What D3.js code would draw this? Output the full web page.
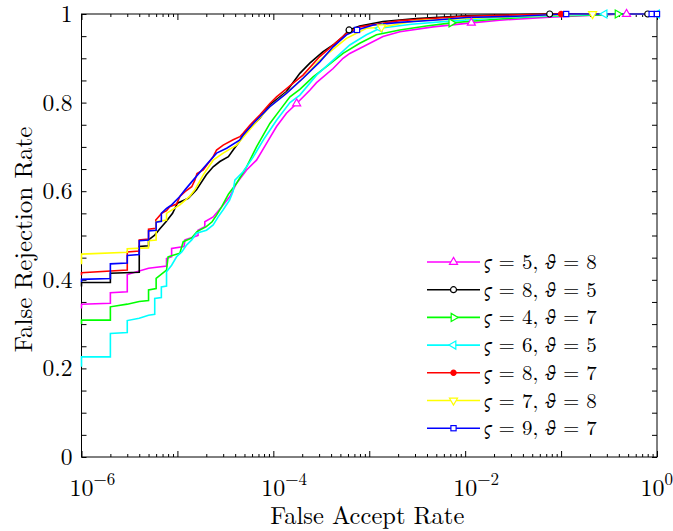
<!DOCTYPE html>
<html>
<head>
<meta charset="utf-8">
<script src="https://cdn.jsdelivr.net/npm/d3@7"></script>
<style>
  body { margin: 0; background: #fff; }
  svg { display: block; }
</style>
</head>
<body>
<div id="chart"></div>
<script>
// Data: [false accept rate, false rejection rate]
const magenta = [[1e-6,0.335],[1e-6,0.345],[2e-6,0.347],[2e-6,0.371],[3e-6,0.373],[3e-6,0.412],[5e-6,0.426],[7.7e-6,0.431],[7.7e-6,0.448],[8.7e-6,0.452],[8.7e-6,0.471],[1.17e-5,0.475],[1.2e-5,0.49],[1.64e-5,0.5],[1.64e-5,0.512],[1.93e-5,0.52],[1.93e-5,0.531],[2.36e-5,0.542],[2.9e-5,0.565],[3.52e-5,0.588],[4.14e-5,0.618],[5.26e-5,0.648],[6.68e-5,0.67],[8.49e-5,0.708],[1.08e-4,0.746],[1.37e-4,0.776],[1.75e-4,0.798],[2.4e-4,0.828],[2.82e-4,0.845],[4.2e-4,0.877],[5.33e-4,0.9],[6.27e-4,0.911],[9.35e-4,0.93],[1.39e-3,0.949],[2.08e-3,0.96],[4.62e-3,0.971],[1.16e-2,0.98],[2.29e-2,0.986],[7.59e-2,0.993],[0.252,0.998],[0.481,1],[1,1]]
const black = [[1e-6,0.385],[1e-6,0.394],[2e-6,0.394],[2e-6,0.415],[4e-6,0.417],[4e-6,0.475],[5e-6,0.477],[5e-6,0.49],[5.8e-6,0.501],[6.6e-6,0.516],[7.6e-6,0.531],[8.9e-6,0.55],[1.0e-5,0.573],[1.3e-5,0.584],[1.58e-5,0.603],[2.0e-5,0.637],[2.36e-5,0.655],[2.77e-5,0.667],[3.4e-5,0.678],[3.81e-5,0.693],[4.3e-5,0.708],[4.84e-5,0.727],[5.69e-5,0.742],[7.23e-5,0.765],[9.2e-5,0.795],[1.37e-4,0.825],[1.89e-4,0.866],[2.4e-4,0.889],[3.3e-4,0.915],[4.2e-4,0.93],[5.33e-4,0.949],[6.16e-4,0.964],[7.96e-4,0.973],[1.39e-3,0.983],[3.1e-3,0.99],[1.03e-2,0.996],[7.6e-2,1],[0.8,1],[1,1]]
const green = [[1e-6,0.3],[1e-6,0.309],[2e-6,0.309],[2e-6,0.339],[3e-6,0.345],[4e-6,0.351],[5e-6,0.353],[5e-6,0.377],[6e-6,0.38],[6e-6,0.403],[7.7e-6,0.422],[8e-6,0.452],[1.06e-5,0.46],[1.15e-5,0.486],[1.4e-5,0.494],[1.6e-5,0.509],[2.0e-5,0.52],[2.3e-5,0.531],[2.56e-5,0.546],[2.9e-5,0.565],[3.15e-5,0.58],[3.4e-5,0.593],[4.14e-5,0.618],[5.26e-5,0.655],[6.68e-5,0.7],[9.2e-5,0.753],[1.17e-4,0.783],[1.49e-4,0.813],[1.89e-4,0.83],[2.6e-4,0.858],[3.58e-4,0.881],[5.33e-4,0.911],[7.96e-4,0.934],[1.19e-3,0.953],[2.08e-3,0.964],[3.94e-3,0.973],[7.18e-3,0.98],[1.53e-2,0.986],[5.08e-2,0.994],[0.252,0.998],[0.388,1],[1,1]]
const cyan = [[1e-6,0.204],[1e-6,0.226],[2e-6,0.226],[2e-6,0.279],[3e-6,0.281],[3e-6,0.308],[4e-6,0.313],[5e-6,0.32],[5.8e-6,0.322],[5.8e-6,0.358],[6.8e-6,0.36],[6.8e-6,0.384],[7.7e-6,0.386],[7.7e-6,0.418],[8.7e-6,0.433],[9.8e-6,0.452],[1.11e-5,0.463],[1.25e-5,0.479],[1.41e-5,0.49],[1.58e-5,0.505],[2.01e-5,0.512],[2.36e-5,0.524],[2.66e-5,0.542],[3.0e-5,0.558],[3.5e-5,0.58],[3.81e-5,0.6],[3.97e-5,0.625],[4.84e-5,0.644],[6.16e-5,0.677],[7.83e-5,0.715],[1.08e-4,0.76],[1.49e-4,0.8],[1.89e-4,0.817],[2.82e-4,0.862],[4.2e-4,0.896],[6.27e-4,0.93],[9.35e-4,0.953],[1.29e-3,0.968],[2.75e-3,0.977],[6.9e-3,0.984],[2.29e-2,0.992],[0.113,0.997],[0.284,1],[1,1]]
const red = [[1e-6,0.41],[1e-6,0.416],[3e-6,0.422],[3e-6,0.463],[4e-6,0.465],[4e-6,0.49],[5e-6,0.492],[5e-6,0.514],[5.95e-6,0.516],[5.95e-6,0.535],[6.84e-6,0.55],[7.7e-6,0.556],[8.3e-6,0.565],[9.8e-6,0.571],[1.06e-5,0.588],[1.2e-5,0.599],[1.41e-5,0.61],[1.52e-5,0.625],[1.6e-5,0.64],[1.86e-5,0.648],[2.36e-5,0.678],[2.56e-5,0.693],[3.0e-5,0.704],[3.81e-5,0.716],[4.48e-5,0.723],[4.84e-5,0.731],[5.69e-5,0.749],[7.23e-5,0.772],[9.2e-5,0.798],[1.08e-4,0.813],[1.26e-4,0.825],[1.61e-4,0.844],[2.04e-4,0.862],[3.05e-4,0.904],[5.79e-4,0.956],[7.96e-4,0.971],[2.08e-3,0.985],[1.03e-2,0.995],[5e-2,0.999],[0.1,1],[1,1]]
const yellow = [[1e-6,0.435],[1e-6,0.458],[3e-6,0.462],[3e-6,0.47],[5e-6,0.472],[5e-6,0.488],[6e-6,0.49],[6e-6,0.531],[7.7e-6,0.535],[7.7e-6,0.55],[1.06e-5,0.569],[1.35e-5,0.589],[1.52e-5,0.603],[1.58e-5,0.61],[1.86e-5,0.637],[2.36e-5,0.67],[3.0e-5,0.686],[4.14e-5,0.704],[5.26e-5,0.731],[6.68e-5,0.757],[9.2e-5,0.791],[1.37e-4,0.822],[2.04e-4,0.855],[3.05e-4,0.896],[5.79e-4,0.945],[9.35e-4,0.968],[1.34e-3,0.97],[3.1e-3,0.985],[1.03e-2,0.99],[5.08e-2,0.996],[0.213,1],[1,1]]
const blue = [[1e-6,0.395],[1e-6,0.401],[2e-6,0.403],[2e-6,0.436],[3e-6,0.438],[3e-6,0.455],[4e-6,0.457],[4e-6,0.488],[5e-6,0.49],[5e-6,0.51],[6e-6,0.512],[6e-6,0.53],[6.8e-6,0.532],[6.8e-6,0.55],[7.7e-6,0.561],[8.7e-6,0.569],[1.06e-5,0.588],[1.2e-5,0.603],[1.46e-5,0.625],[1.86e-5,0.652],[2.56e-5,0.686],[3.26e-5,0.697],[4.48e-5,0.716],[4.84e-5,0.727],[6.16e-5,0.753],[9.2e-5,0.791],[1.37e-4,0.821],[2.04e-4,0.855],[3.05e-4,0.892],[4.2e-4,0.926],[5.79e-4,0.953],[7.46e-4,0.964],[1.1e-3,0.975],[2.08e-3,0.981],[4.62e-3,0.986],[1.03e-2,0.992],[3.41e-2,0.995],[0.113,1],[0.88,1],[1,1]]

// FAR values where a marker sits on each curve
const magentaMarks = [1.75e-4, 1.16e-2, 0.481]
const blackMarks = [6.16e-4, 7.6e-2, 0.8]
const greenMarks = [7.18e-3, 0.388]
const cyanMarks = [1.29e-3, 0.284, 1]
const redMarks = [0.1]
const yellowMarks = [1.34e-3, 0.213]
const blueMarks = [7.46e-4, 0.113, 0.88, 1]

const varsigma = ['5', '8', '4', '6', '8', '7', '9']
const vartheta = ['8', '5', '7', '5', '7', '8', '7']
const colors = ['#ff00ff', '#000000', '#00ff00', '#00ffff', '#ff0000', '#ffff00', '#0000ff']
const shapes = ['up', 'circle', 'right', 'left', 'dot', 'down', 'square']

const xTickExponents = [-6, -4, -2, 0]
const yTickValues = [0, 0.2, 0.4, 0.6, 0.8, 1]

const curves = [magenta, black, green, cyan, red, yellow, blue]
const marks = [magentaMarks, blackMarks, greenMarks, cyanMarks, redMarks, yellowMarks, blueMarks]

// SVG
const width = 673, height = 531
const margin = { top: 14, right: 16, bottom: 74, left: 81.5 }
const w = width - margin.left - margin.right
const h = height - margin.top - margin.bottom
const roman = '"Latin Modern Roman", "CMU Serif", "Liberation Serif"'
const greekItalic = '"STIX Two Text", "Noto Serif", "DejaVu Serif"'

const svg = d3.select('#chart').append('svg')
  .attr('width', width).attr('height', height)

const x = d3.scaleLog().domain([1e-6, 1]).range([0, w])
const y = d3.scaleLinear().domain([0, 1]).range([h, 0])

const g = svg.append('g').attr('transform', `translate(${margin.left},${margin.top})`)

// Axes (ticks point inwards)
const decades = d3.range(-6, 1).map(e => Math.pow(10, e))
const minorX = []
decades.slice(0, -1).forEach(d => { for (let k = 2; k <= 9; k++) minorX.push(d * k) })
const minorY = d3.range(0, 1.0001, 0.05)

function styleAxis(sel) {
  sel.select('.domain').remove()
  sel.selectAll('line').attr('stroke', '#000').attr('stroke-width', 1)
  sel.selectAll('text').remove()
}
g.append('g').attr('transform', `translate(0,${h})`).call(d3.axisBottom(x).tickValues(decades).tickSize(-6)).call(styleAxis)
g.append('g').attr('transform', `translate(0,${h})`).call(d3.axisBottom(x).tickValues(minorX).tickSize(-3)).call(styleAxis)
g.append('g').call(d3.axisTop(x).tickValues(decades).tickSize(-6)).call(styleAxis)
g.append('g').call(d3.axisTop(x).tickValues(minorX).tickSize(-3)).call(styleAxis)
g.append('g').call(d3.axisLeft(y).tickValues(minorY).tickSize(-5)).call(styleAxis)
g.append('g').attr('transform', `translate(${w},0)`).call(d3.axisRight(y).tickValues(minorY).tickSize(-5)).call(styleAxis)

g.append('rect').attr('width', w).attr('height', h)
  .attr('fill', 'none').attr('stroke', '#000').attr('stroke-width', 1)

// Y tick labels
g.selectAll('text.ylab').data(yTickValues).join('text')
  .attr('class', 'ylab')
  .attr('x', -9).attr('y', d => y(d)).attr('dy', '0.34em')
  .attr('text-anchor', 'end')
  .style('font-family', roman).style('font-size', '23.5px')
  .text(d3.format('~g'))

// X tick labels 10^e
xTickExponents.forEach(e => {
  const lab = g.append('g').attr('transform', `translate(${x(Math.pow(10, e))},${h + 39})`)
  const base = lab.append('text').attr('text-anchor', 'middle')
    .style('font-family', roman).style('font-size', '24px').text('10')
  const bw = base.node().getComputedTextLength()
  lab.append('text').attr('x', bw / 2).attr('y', -11)
    .style('font-family', roman).style('font-size', '17px')
    .text(e < 0 ? '\u2212' + (-e) : String(e))
  const bb = lab.node().getBBox()
  const right = margin.left + x(Math.pow(10, e)) + bb.x + bb.width
  if (right > width) lab.attr('transform', `translate(${x(Math.pow(10, e)) - (right - width)},${h + 39})`)
})

// Axis titles
svg.append('text').attr('x', margin.left + w / 2 - 2).attr('y', 524)
  .attr('text-anchor', 'middle')
  .style('font-family', roman).style('font-size', '24.5px').text('False Accept Rate')
svg.append('text').attr('transform', `translate(32,${margin.top + h / 2 + 4}) rotate(-90)`)
  .attr('text-anchor', 'middle')
  .style('font-family', roman).style('font-size', '25px').text('False Rejection Rate')

// Markers
function drawMarker(sel, shape, color) {
  const fill = shape === 'dot' ? color : '#fff'
  if (shape === 'circle' || shape === 'dot') {
    sel.append('circle').attr('r', shape === 'dot' ? 2.6 : 3).attr('fill', fill).attr('stroke', color).attr('stroke-width', 1.2)
    return
  }
  if (shape === 'square') {
    sel.append('rect').attr('x', -2.6).attr('y', -2.6).attr('width', 5.2).attr('height', 5.2)
      .attr('fill', fill).attr('stroke', color).attr('stroke-width', 1.2)
    return
  }
  const rot = { up: 0, right: 90, down: 180, left: 270 }[shape]
  sel.append('path').attr('d', d3.symbol(d3.symbolTriangle, 28)())
    .attr('transform', `rotate(${rot})`)
    .attr('fill', fill).attr('stroke', color).attr('stroke-width', 1.2)
}

// Curves
const line = d3.line().x(d => x(d[0])).y(d => y(d[1]))
curves.forEach((data, i) => {
  g.append('path').datum(data).attr('d', line)
    .attr('fill', 'none').attr('stroke', colors[i]).attr('stroke-width', 1.6)
    .attr('stroke-linejoin', 'miter')
})
curves.forEach((data, i) => {
  marks[i].forEach(far => {
    const p = data.find(d => d[0] === far)
    if (!p) return
    const m = g.append('g').attr('transform', `translate(${x(p[0])},${y(p[1])})`)
    drawMarker(m, shapes[i], colors[i])
  })
})

// Legend
const legend = svg.append('g').attr('transform', 'translate(427,262)')
colors.forEach((c, i) => {
  const row = legend.append('g').attr('transform', `translate(0,${i * 27.7})`)
  row.append('line').attr('x1', 0).attr('x2', 53).attr('stroke', c).attr('stroke-width', 1.6)
  drawMarker(row.append('g').attr('transform', 'translate(26.5,0)'), shapes[i], c)
  const t = row.append('text').attr('x', 57).attr('y', 7)
    .style('font-family', roman).style('font-size', '21px')
  t.append('tspan').style('font-family', greekItalic).style('font-style', 'italic').text('\u03c2')
  t.append('tspan').text(' = ' + varsigma[i] + ', ')
  t.append('tspan').style('font-family', greekItalic).style('font-style', 'italic').text('\u03d1')
  t.append('tspan').text(' = ' + vartheta[i])
})
</script>
</body>
</html>
